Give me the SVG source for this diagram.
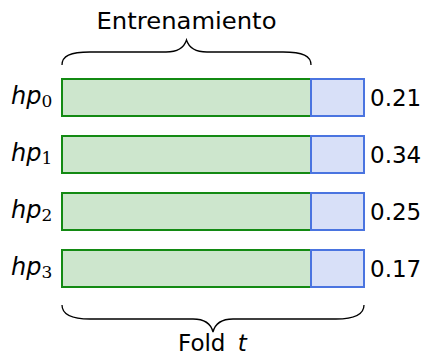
<svg xmlns="http://www.w3.org/2000/svg" width="426" height="356" viewBox="0 0 426 356">
  <style>
    .train { fill: #cde6cd; stroke: #138a13; stroke-width: 2; }
    .test { fill: #d8e0f8; stroke: #4a74e0; stroke-width: 2; }
    .brace { fill: none; stroke: #000; stroke-width: 1.3; }
    .lbl { font-family: "DejaVu Sans", "Liberation Sans", sans-serif; font-size: 23px; fill: #000; }
    .hp { font-family: "DejaVu Sans", "Liberation Sans", sans-serif; font-style: italic; font-size: 24px; fill: #000; }
    .sub { font-family: "DejaVu Serif", "Liberation Serif", serif; font-style: normal; font-size: 17px; }
    .val { font-family: "DejaVu Sans", "Liberation Sans", sans-serif; font-size: 23px; fill: #000; }
  </style>

  <g id="connectors">
    <!-- training brace above the green blocks -->
    <path class="brace" d="M62,65 C62,56 70,52 90,52 L166,52 C178,52 184,48 186.5,40 C189,48 195,52 207,52 L283,52 C303,52 311,56 311,65"/>
    <!-- fold brace below all rows -->
    <path class="brace" d="M62,305 C62,314 70,319 90,319 L193,319 C205,319 211,324 213,332 C215,324 221,319 233,319 L336,319 C356,319 364,314 364,305"/>
  </g>

  <g id="title-train">
    <text class="lbl" x="186.5" y="29" text-anchor="middle" textLength="180" lengthAdjust="spacingAndGlyphs">Entrenamiento</text>
  </g>

  <g id="row0">
    <rect class="train" x="62" y="79" width="249" height="37"/>
    <rect class="test" x="311" y="79" width="53" height="37"/>
    <text class="hp" x="11" y="104">hp<tspan class="sub" dy="3">0</tspan></text>
    <text class="val" x="370" y="106">0.21</text>
  </g>

  <g id="row1">
    <rect class="train" x="62" y="136" width="249" height="37"/>
    <rect class="test" x="311" y="136" width="53" height="37"/>
    <text class="hp" x="11" y="161">hp<tspan class="sub" dy="3">1</tspan></text>
    <text class="val" x="370" y="163">0.34</text>
  </g>

  <g id="row2">
    <rect class="train" x="62" y="193" width="249" height="37"/>
    <rect class="test" x="311" y="193" width="53" height="37"/>
    <text class="hp" x="11" y="218">hp<tspan class="sub" dy="3">2</tspan></text>
    <text class="val" x="370" y="220">0.25</text>
  </g>

  <g id="row3">
    <rect class="train" x="62" y="250" width="249" height="37"/>
    <rect class="test" x="311" y="250" width="53" height="37"/>
    <text class="hp" x="11" y="275">hp<tspan class="sub" dy="3">3</tspan></text>
    <text class="val" x="370" y="277">0.17</text>
  </g>

  <g id="title-fold">
    <text class="lbl" x="178" y="351">Fold <tspan font-style="italic" dx="5">t</tspan></text>
  </g>
</svg>
